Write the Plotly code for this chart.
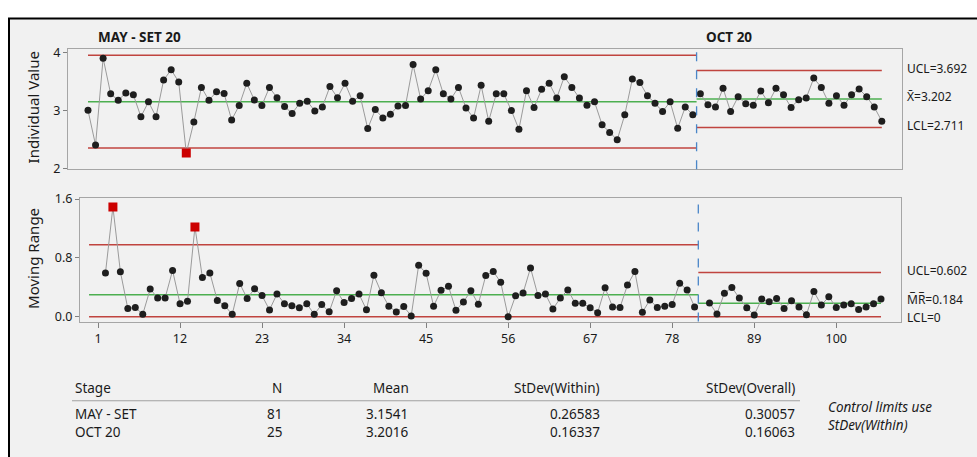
import plotly.graph_objects as go

W, H = 977, 457

# Stage summary (table under the chart)
stage_names = ["MAY - SET", "OCT 20"]
stage_titles = ["MAY - SET 20", "OCT 20"]
stage_n = [81, 25]
stage_mean = [3.1541, 3.2016]
stage_sd_within = [0.26583, 0.16337]
stage_sd_overall = [0.30057, 0.16063]

# Individual observations, stage 1 (1..81)
values_may_set = [
    3.005, 2.410, 3.902, 3.289, 3.178, 3.305, 3.272, 2.895, 3.151, 2.895,
    3.525, 3.703, 3.493, 2.272, 2.805, 3.400, 3.178, 3.327, 3.294, 2.841,
    3.090, 3.471, 3.183, 3.090, 3.400, 3.222, 3.073, 2.952, 3.128, 3.161,
    2.995, 3.062, 3.415, 3.222, 3.471, 3.161, 3.255, 2.692, 3.018, 2.874,
    2.940, 3.078, 3.090, 3.791, 3.200, 3.344, 3.703, 3.289, 3.200, 3.400,
    3.045, 2.874, 3.435, 2.819, 3.289, 3.289, 3.002, 2.680, 3.344, 3.056,
    3.366, 3.471, 3.217, 3.582, 3.400, 3.217, 3.095, 3.151, 2.758, 2.625,
    2.498, 2.929, 3.543, 3.482, 3.255, 3.128, 2.985, 3.151, 2.697, 3.062,
    2.929,
]
# Individual observations, stage 2 (82..106)
values_oct = [
    3.289, 3.101, 3.062, 3.383, 2.985, 3.239, 3.118, 3.095, 3.338, 3.134,
    3.383, 3.272, 3.056, 3.189, 3.217, 3.559, 3.400, 3.128, 3.255, 3.095,
    3.272, 3.372, 3.239, 3.062, 2.819,
]

x_ticks = [1, 12, 23, 34, 45, 56, 67, 78, 89, 100]

D2, D4 = 1.128, 3.267

FONT = "Noto Sans"
LIMIT_RED = "#c0443f"
CENTER_GREEN = "#4caf50"
DOT = "#1e1e1e"
ALARM = "#cc0000"
BOUNDARY = "#4a86c8"
FRAME_GRAY = "#a6a6a6"


def px(x):
    return x / W


def py(y):
    return 1 - y / H


stages = [values_may_set, values_oct]
starts = [1, 1 + len(values_may_set)]
boundary = starts[1] - 0.5
last_obs = starts[1] + len(values_oct) - 1

fig = go.Figure()

for k, vals in enumerate(stages):
    obs = list(range(starts[k], starts[k] + len(vals)))
    mean = stage_mean[k]
    sw = stage_sd_within[k]
    ucl, lcl = mean + 3 * sw, mean - 3 * sw
    mr = [abs(vals[i] - vals[i - 1]) for i in range(1, len(vals))]
    mr_obs = obs[1:]
    mr_bar = D2 * sw
    mr_ucl = D4 * mr_bar

    # span of the limit lines for this stage
    top_x0 = 1 if k == 0 else boundary
    bot_x0 = -0.2 if k == 0 else boundary
    x1 = boundary if k == 0 else last_obs

    for y_val, col in [(ucl, LIMIT_RED), (mean, CENTER_GREEN), (lcl, LIMIT_RED)]:
        fig.add_trace(go.Scatter(x=[top_x0, x1], y=[y_val, y_val], mode="lines",
                                 line=dict(color=col, width=1.5), hoverinfo="skip",
                                 xaxis="x", yaxis="y", showlegend=False))
    for y_val, col in [(mr_ucl, LIMIT_RED), (mr_bar, CENTER_GREEN), (0, LIMIT_RED)]:
        fig.add_trace(go.Scatter(x=[bot_x0, x1], y=[y_val, y_val], mode="lines",
                                 line=dict(color=col, width=1.5), hoverinfo="skip",
                                 xaxis="x2", yaxis="y2", showlegend=False))

    out_i = [v > ucl or v < lcl for v in vals]
    fig.add_trace(go.Scatter(
        x=obs, y=vals, mode="lines+markers", xaxis="x", yaxis="y", showlegend=False,
        line=dict(color="#9a9a9a", width=1),
        marker=dict(
            color=[ALARM if o else DOT for o in out_i],
            symbol=["square" if o else "circle" for o in out_i],
            size=[9 if o else 7 for o in out_i],
            opacity=1,
            line=dict(width=0),
        ),
    ))
    out_mr = [m > mr_ucl for m in mr]
    fig.add_trace(go.Scatter(
        x=mr_obs, y=mr, mode="lines+markers", xaxis="x2", yaxis="y2", showlegend=False,
        line=dict(color="#9a9a9a", width=1),
        marker=dict(
            color=[ALARM if o else DOT for o in out_mr],
            symbol=["square" if o else "circle" for o in out_mr],
            size=[9 if o else 7 for o in out_mr],
            opacity=1,
            line=dict(width=0),
        ),
    ))

    if k == 1:
        lab_font = dict(family=FONT, size=12, color="#1a1a1a")
        for y_val, txt in [(ucl, f"UCL={ucl:.3f}"), (mean, f"X\u0304={mean:.3f}"),
                           (lcl, f"LCL={lcl:.3f}")]:
            fig.add_annotation(x=px(905), xref="paper", y=y_val, yref="y", text=txt,
                               showarrow=False, xanchor="left", yanchor="middle",
                               yshift=2, font=lab_font)
        for y_val, txt, ys in [(mr_ucl, f"UCL={mr_ucl:.3f}", 2),
                               (mr_bar, f"M\u0305R\u0305={mr_bar:.3f}", 4),
                               (0, "LCL=0", -1)]:
            fig.add_annotation(x=px(905), xref="paper", y=y_val, yref="y2", text=txt,
                               showarrow=False, xanchor="left", yanchor="middle",
                               yshift=ys, font=lab_font)

# stage boundary
for yr in ["y domain", "y2 domain"]:
    xr = "x" if yr.startswith("y ") else "x2"
    fig.add_shape(type="line", xref=xr, yref=yr, x0=boundary, x1=boundary, y0=0, y1=1,
                  line=dict(color=BOUNDARY, width=1.3, dash="dash"))

# background panel with frame
fig.add_shape(type="rect", xref="paper", yref="paper", layer="below",
              x0=px(9), x1=1.02, y0=-0.05, y1=py(11),
              fillcolor="#f1f1f1", line=dict(color="black", width=2))

# stage titles
for t, xpos in zip(stage_titles, [96, 704]):
    fig.add_annotation(x=px(xpos), y=py(30), xref="paper", yref="paper", text=f"<b>{t}</b>",
                       showarrow=False, xanchor="left", yanchor="middle",
                       font=dict(family=FONT, size=13.5, color="#1a1a1a"))

# axis titles
for t, ycen in [("Individual Value", 103), ("Moving Range", 260)]:
    fig.add_annotation(x=px(33), y=py(ycen), xref="paper", yref="paper", text=t,
                       textangle=-90, showarrow=False, xanchor="center", yanchor="middle",
                       font=dict(family=FONT, size=15, color="#1a1a1a"))

# summary table: header line, rule, then one two-line block per column
tfont = dict(family=FONT, size=13.5, color="#1a1a1a")
cols = [("Stage", 73, "left"), ("N", 284, "right"), ("Mean", 411, "right"),
        ("StDev(Within)", 602, "right"), ("StDev(Overall)", 797, "right")]
table_cols = [
    stage_names,
    [str(n) for n in stage_n],
    [f"{m:.4f}" for m in stage_mean],
    [f"{s:.5f}" for s in stage_sd_within],
    [f"{s:.5f}" for s in stage_sd_overall],
]
for (hdr, xpos, anc), cells in zip(cols, table_cols):
    fig.add_annotation(x=px(xpos), y=py(394), xref="paper", yref="paper", text=hdr,
                       showarrow=False, xanchor=anc, yanchor="middle", font=tfont)
    fig.add_annotation(x=px(xpos), y=py(430.5), xref="paper", yref="paper",
                       text="<br>".join(cells), align=anc,
                       showarrow=False, xanchor=anc, yanchor="middle", font=tfont)
fig.add_shape(type="line", xref="paper", yref="paper", x0=px(72), x1=px(800),
              y0=py(407), y1=py(407), line=dict(color="#a0a0a0", width=1))
fig.add_annotation(x=px(826), y=py(423), xref="paper", yref="paper",
                   text="<i>Control limits use</i><br><i>StDev(Within)</i>", align="left",
                   showarrow=False, xanchor="left", yanchor="middle", font=tfont)

axis_common = dict(showgrid=False, zeroline=False, showline=True, linecolor=FRAME_GRAY,
                   linewidth=1, mirror=True,
                   tickfont=dict(family=FONT, size=12.5, color="#1a1a1a"))

fig.update_layout(
    width=W, height=H,
    margin=dict(l=0, r=0, t=0, b=0),
    paper_bgcolor="white",
    plot_bgcolor="white",
    xaxis=dict(domain=[px(68), px(902)], range=[-1.646, 108.67], anchor="y",
               showticklabels=False, ticks="", **axis_common),
    yaxis=dict(domain=[py(167), py(43)], range=[1.995, 4.051], anchor="x",
               tickvals=[2, 3, 4], ticks="outside", ticklen=4, tickcolor="#808080",
               **axis_common),
    xaxis2=dict(domain=[px(80), px(901)], range=[-1.414, 108.68], anchor="y2",
                tickvals=x_ticks, ticks="outside", ticklen=5, tickcolor="#808080",
                **axis_common),
    yaxis2=dict(domain=[py(325), py(197)], range=[-0.066, 1.613], anchor="x2",
                tickvals=[0, 0.8, 1.6], ticktext=["0.0", "0.8", "1.6"],
                ticks="outside", ticklen=4, tickcolor="#808080", **axis_common),
)

fig.write_html("out.html")
